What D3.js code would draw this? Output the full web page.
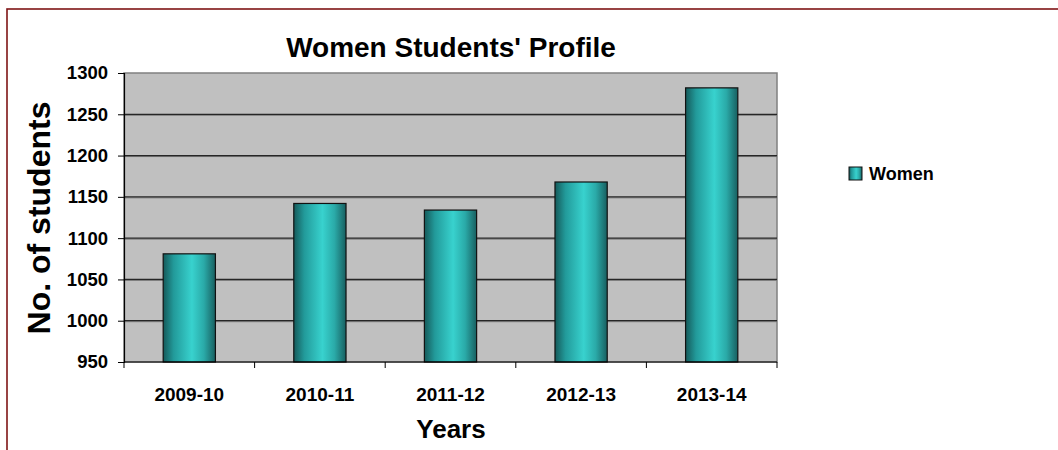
<!DOCTYPE html>
<html><head><meta charset="utf-8">
<script src="https://cdn.jsdelivr.net/npm/d3@7"></script>
<style>body{margin:0;background:#fff}svg{display:block}text{font-family:"Liberation Sans",Arial,sans-serif;font-weight:bold;fill:#000}</style>
</head><body>
<script>
const categories = ["2009-10","2010-11","2011-12","2012-13","2013-14"];
const women = [1081, 1142, 1134, 1168, 1282];
const yTicks = [950,1000,1050,1100,1150,1200,1250,1300];
const seriesName = "Women";
const chartTitle = "Women Students' Profile";
const xTitle = "Years";
const yTitle = "No. of students";

const W = 1058, H = 450;
const svg = d3.select("body").append("svg").attr("width", W).attr("height", H);
const defs = svg.append("defs");
const g = defs.append("linearGradient").attr("id","barg").attr("x1","0").attr("x2","1").attr("y1","0").attr("y2","0");
[[0,"#155a5a"],[0.2,"#229a9a"],[0.55,"#38d2ce"],[0.78,"#2aaaa8"],[1,"#185f60"]].forEach(([o,c])=>g.append("stop").attr("offset",o).attr("stop-color",c));

// outer frame
svg.append("rect").attr("x",7).attr("y",9).attr("width",1100).attr("height",500).attr("fill","none").attr("stroke","#7f1416").attr("stroke-width",1.6);

const pl = 124, pr = 777, pt = 73, pb = 362;
const x = d3.scaleBand().domain(categories).range([pl, pr]).paddingInner(0.6).paddingOuter(0.3);
const y = d3.scaleLinear().domain([950,1300]).range([pb, pt]);

svg.append("rect").attr("x",pl).attr("y",pt).attr("width",pr-pl).attr("height",pb-pt).attr("fill","#c0c0c0").attr("stroke","#808080").attr("stroke-width",1.5);

// gridlines
const grid = svg.append("g");
yTicks.filter(v=>v>950 && v<1300).forEach(v=>{
  grid.append("line").attr("x1",pl).attr("x2",pr).attr("y1",y(v)+1).attr("y2",y(v)+1).attr("stroke","#7a7a7a").attr("stroke-width",1);
  grid.append("line").attr("x1",pl).attr("x2",pr).attr("y1",y(v)).attr("y2",y(v)).attr("stroke","#262626").attr("stroke-width",1.2);
});

// bars
svg.append("g").selectAll("rect").data(women).join("rect")
  .attr("x",(d,i)=>x(categories[i])).attr("width",x.bandwidth())
  .attr("y",d=>y(d)).attr("height",d=>pb-y(d))
  .attr("fill","url(#barg)").attr("stroke","#111").attr("stroke-width",1.2);

// y axis
const yAxis = svg.append("g").attr("transform",`translate(${pl},0)`)
  .call(d3.axisLeft(y).tickValues(yTicks).tickSize(6).tickPadding(10).tickFormat(d3.format("d")));
yAxis.select(".domain").attr("stroke","#000").attr("stroke-width",1.2);
yAxis.selectAll(".tick line").attr("stroke","#000");
yAxis.selectAll("text").style("font-size","18.5px").style("font-family","Liberation Sans").style("font-weight","bold").attr("fill","#000");

// x axis
const xb = d3.scaleLinear().domain([0,5]).range([pl,pr]);
const xAxisG = svg.append("g").attr("transform",`translate(0,${pb})`);
xAxisG.append("line").attr("x1",pl).attr("x2",pr).attr("stroke","#000").attr("stroke-width",1.2);
xAxisG.selectAll("line.t").data(d3.range(6)).join("line").attr("class","t")
  .attr("x1",d=>xb(d)).attr("x2",d=>xb(d)).attr("y1",0).attr("y2",6).attr("stroke","#000");
xAxisG.selectAll("text").data(categories).join("text")
  .attr("x",d=>x(d)+x.bandwidth()/2).attr("y",39).attr("text-anchor","middle")
  .style("font-size","19px").text(d=>d);

// titles
svg.append("text").attr("x",451).attr("y",57).attr("text-anchor","middle").style("font-size","28px").text(chartTitle);
svg.append("text").attr("x",451).attr("y",438).attr("text-anchor","middle").style("font-size","26px").text(xTitle);
svg.append("text").attr("transform","translate(50,218) rotate(-90)").attr("text-anchor","middle").style("font-size","32px").text(yTitle);

// legend
const lg = svg.append("g").attr("transform","translate(849,167)");
lg.append("rect").attr("width",13).attr("height",13).attr("fill","url(#barg)").attr("stroke","#111");
lg.append("text").attr("x",20).attr("y",13).style("font-size","18px").text(seriesName);
</script>
</body></html>
